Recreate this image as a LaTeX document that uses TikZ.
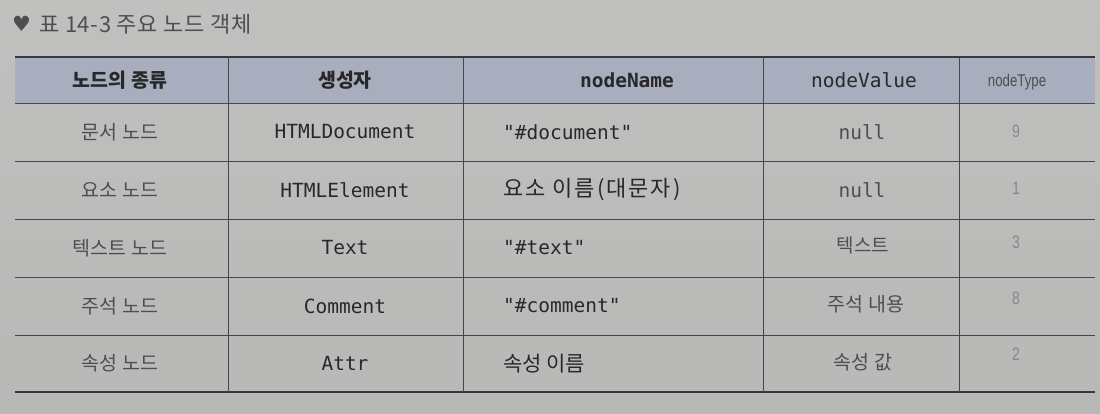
\documentclass[tikz,border=0pt]{standalone}
\usepackage{fontspec}
\setmainfont{Noto Sans CJK KR}
\newfontfamily\kr{Noto Sans CJK KR}
\newfontfamily\mono{DejaVu Sans Mono}
\newfontfamily\sym{DejaVu Sans}
\newfontfamily\cond[FakeStretch=0.78]{Liberation Sans}
\definecolor{bg}{RGB}{184,184,182}
\definecolor{bgtop}{RGB}{192,192,190}
\definecolor{hdr}{RGB}{168,174,190}
\definecolor{ink}{RGB}{40,40,42}
\definecolor{soft}{RGB}{78,78,80}
\definecolor{faint}{RGB}{135,135,135}
\definecolor{rule}{RGB}{70,70,72}
\tikzset{
  cell/.style={inner sep=0pt, anchor=center, text=ink},
  krcell/.style={cell, font=\kr\fontsize{19.5}{21}\selectfont, text=soft},
  hkr/.style={cell, font=\kr\bfseries\fontsize{19.5}{21}\selectfont},
  hmono/.style={cell, font=\mono\bfseries\fontsize{19.5}{21}\selectfont},
  mcell/.style={cell, font=\mono\fontsize{19.5}{21}\selectfont},
  lcell/.style={mcell, anchor=west},
  typecell/.style={cell, font=\cond\fontsize{18}{20}\selectfont, text=faint},
  thinrule/.style={draw=rule, line width=0.8pt},
  thickrule/.style={draw=rule!80!black, line width=1.8pt},
}
\begin{document}
\begin{tikzpicture}[x=1pt,y=-1pt]
\useasboundingbox (0,0) rectangle (1100,414);
\shade[top color=bgtop, bottom color=bg] (0,0) rectangle (1100,414);
% title
\node[cell, anchor=west, text=soft, font=\sym\fontsize{21}{23}\selectfont] (heart) at (12,24) {♥};
\node[cell, anchor=west, text=soft, font=\kr\fontsize{22}{24}\selectfont\addfontfeature{LetterSpace=3}] (title) at (39,24) {표 14-3 주요 노드 객체};
% header fill
\fill[hdr] (15,57) rectangle (1095,103);
% rules
\coordinate (tl) at (15,57); \coordinate (tr) at (1095,57);
\draw[thickrule] (tl) -- (tr);
\foreach \y in {103,161,219,277,335}{
  \draw[thinrule] (15,\y) -- (1095,\y);
}
\coordinate (bl) at (15,392); \coordinate (br) at (1095,392);
\draw[thickrule] (bl) -- (br);
\foreach \x in {228,463,763,959}{
  \draw[thinrule] (\x,57) -- (\x,392);
}
% header
\node[hkr] (h1) at (120,80) {노드의 종류};
\node[hkr] (h2) at (345,80) {생성자};
\node[hmono] (h3) at (627,80) {nodeName};
\node[hmono, font=\mono\fontsize{19.5}{21}\selectfont] (h4) at (864,80) {nodeValue};
\node[typecell, text=soft, font=\cond\fontsize{17}{19}\selectfont] (h5) at (1017,82) {nodeType};
% row 1
\node[krcell] (a1) at (120,132) {문서 노드};
\node[mcell] (b1) at (345,132) {HTMLDocument};
\node[lcell] (c1) at (503,132) {"\#document"};
\node[mcell, text=soft] (d1) at (862,132) {null};
\node[typecell] (e1) at (1016,131) {9};
% row 2
\node[krcell] (a2) at (120,190) {요소 노드};
\node[mcell] (b2) at (345,190) {HTMLElement};
\node[lcell, font=\kr\fontsize{22}{24}\selectfont\addfontfeature{LetterSpace=9}] (c2) at (503,190) {요소 이름(대문자)};
\node[mcell, text=soft] (d2) at (862,190) {null};
\node[typecell] (e2) at (1016,188) {1};
% row 3
\node[krcell] (a3) at (120,248) {텍스트 노드};
\node[mcell] (b3) at (345,248) {Text};
\node[lcell] (c3) at (503,248) {"\#text"};
\node[krcell, font=\kr\fontsize{19}{21}\selectfont] (d3) at (863,245) {텍스트};
\node[typecell] (e3) at (1016,242) {3};
% row 4
\node[krcell] (a4) at (120,306) {주석 노드};
\node[mcell] (b4) at (345,306) {Comment};
\node[lcell] (c4) at (503,306) {"\#comment"};
\node[krcell] (d4) at (866,304) {주석 내용};
\node[typecell] (e4) at (1016,298) {8};
% row 5
\node[krcell] (a5) at (120,363) {속성 노드};
\node[mcell] (b5) at (345,363) {Attr};
\node[lcell, font=\kr\fontsize{21}{23}\selectfont] (c5) at (503,364) {속성 이름};
\node[krcell] (d5) at (863,362) {속성 값};
\node[typecell] (e5) at (1016,354) {2};
\end{tikzpicture}
\end{document}
